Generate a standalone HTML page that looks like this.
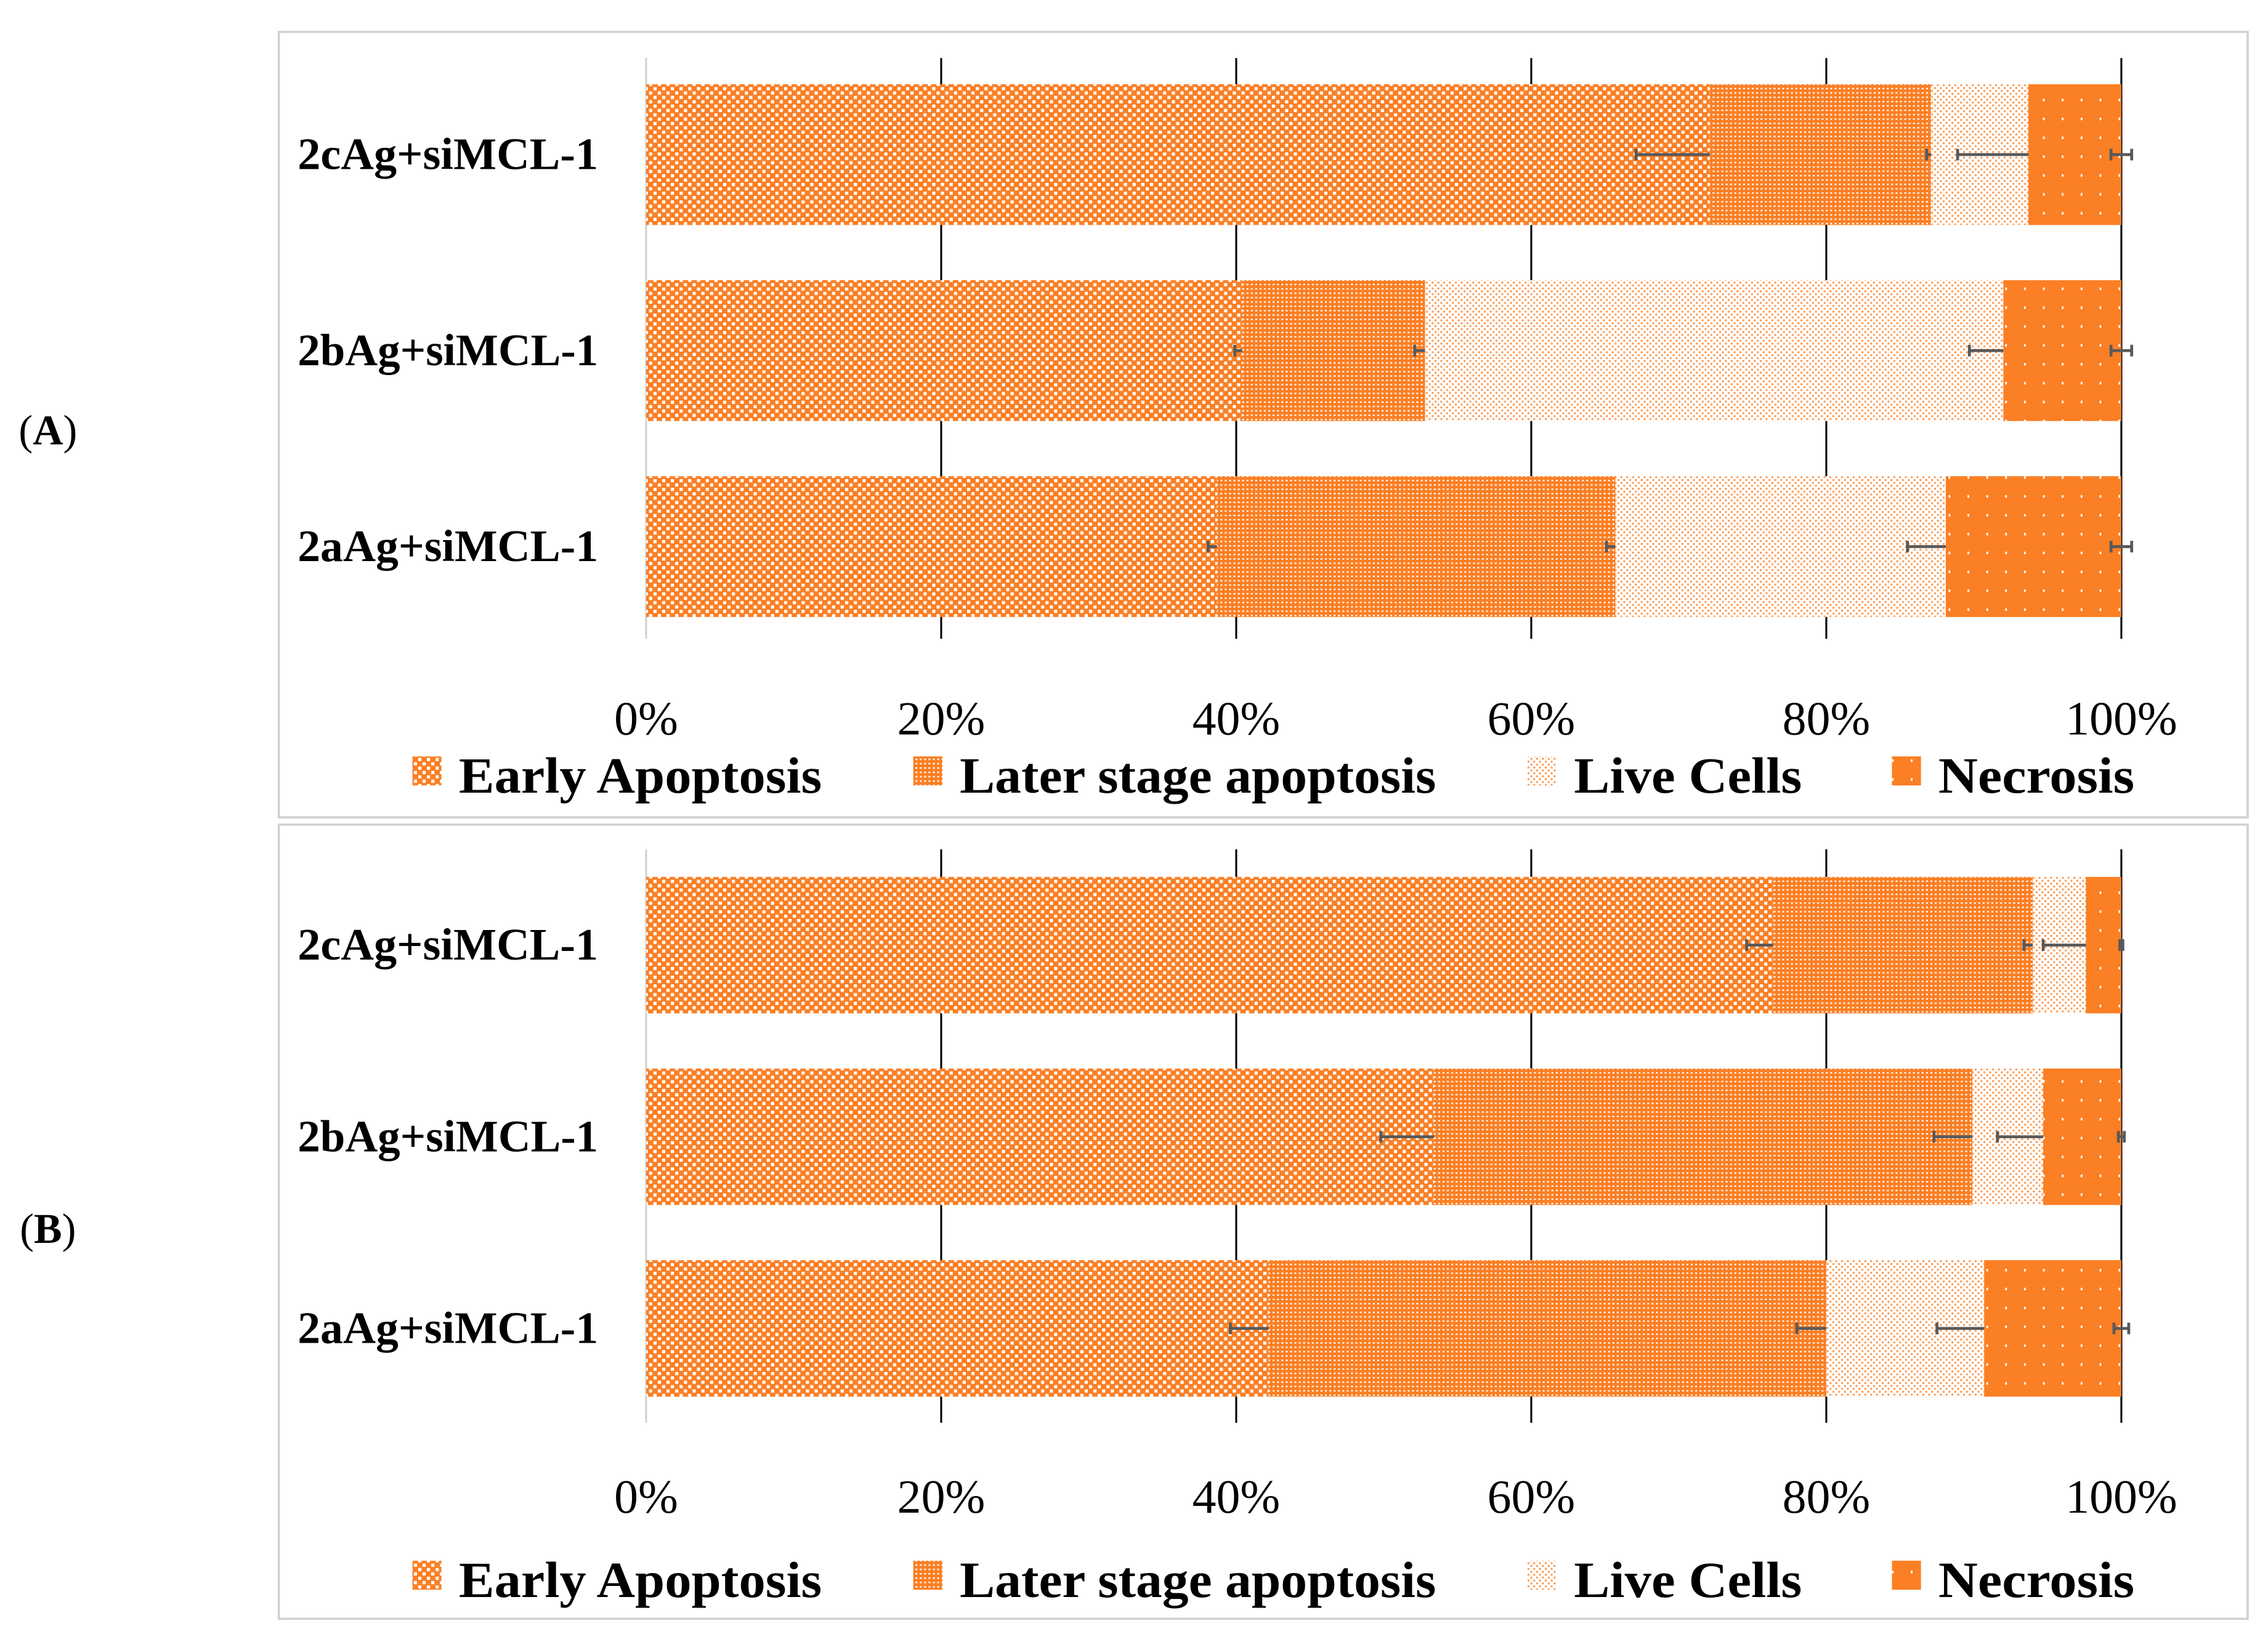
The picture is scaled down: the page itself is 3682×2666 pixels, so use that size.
<!DOCTYPE html>
<html><head><meta charset="utf-8">
<style>
html,body{margin:0;padding:0;background:#fff;}
svg{display:block;}
text{font-family:"Liberation Serif",serif;}
</style></head>
<body>
<svg id="chart" width="3682" height="2666" viewBox="0 0 1562 1131" preserveAspectRatio="none">
<defs>
<pattern id="pEarly" width="6" height="6" patternUnits="userSpaceOnUse">
<rect width="6" height="6" fill="#fb7f24"/><rect x="0" y="0" width="2.2" height="2.2" fill="#fff"/><rect x="3" y="3" width="2.2" height="2.2" fill="#fff"/></pattern>
<pattern id="pLater" width="3" height="3" patternUnits="userSpaceOnUse">
<rect width="3" height="3" fill="#fb7f24"/><rect x="0.5" y="0.5" width="1.3" height="1" fill="#fff"/></pattern>
<pattern id="pLive" width="4" height="4" patternUnits="userSpaceOnUse">
<rect width="4" height="4" fill="#fff"/><rect x="0" y="0" width="1.3" height="1.3" fill="#fb9a50"/><rect x="2" y="2" width="1.3" height="1.3" fill="#fb9a50"/></pattern>
<pattern id="pNec" width="13" height="13" patternUnits="userSpaceOnUse">
<rect width="13" height="13" fill="#fb7f24"/><rect x="3" y="3" width="1.2" height="1.8" fill="#fff"/></pattern>
</defs>
<g id="root"></g>
</svg>
<script>
const categories = ["2cAg+siMCL-1","2bAg+siMCL-1","2aAg+siMCL-1"];
const seriesNames = ["Early Apoptosis","Later stage apoptosis","Live Cells","Necrosis"];
const ticks = ["0%","20%","40%","60%","80%","100%"];
const tickValues = [0,20,40,60,80,100];
// Panel A values (per category, in series order)
const aEarly = [72.1, 40.4, 38.7];
const aLater = [15.0, 12.4, 27.0];
const aLive  = [6.6, 39.2, 22.4];
const aNecro = [6.3, 8.0, 11.9];
const aErrEarly = [5.0, 0.5, 0.6];
const aErrLater = [0.3, 0.7, 0.6];
const aErrLive  = [4.8, 2.3, 2.6];
const aErrNecro = [0.7, 0.7, 0.7];
// Panel B values
const bEarly = [76.4, 53.4, 42.2];
const bLater = [17.6, 36.5, 37.8];
const bLive  = [3.6, 4.8, 10.7];
const bNecro = [2.4, 5.3, 9.3];
const bErrEarly = [1.8, 3.6, 2.6];
const bErrLater = [0.6, 2.6, 2.0];
const bErrLive  = [2.9, 3.1, 3.2];
const bErrNecro = [0.1, 0.2, 0.5];

const NS="http://www.w3.org/2000/svg";
const root=document.getElementById('root');
function mk(tag,attrs,parent,txt){const e=document.createElementNS(NS,tag);for(const k in attrs)e.setAttribute(k,attrs[k]);if(txt!==undefined)e.textContent=txt;(parent||root).appendChild(e);return e;}
const X0=445,X1=1461;
const xs=v=>X0+(X1-X0)*v/100;
const fills=["url(#pEarly)","url(#pLater)","url(#pLive)","url(#pNec)"];

function panel(cfg){
  const g=mk('g',{});
  
  
  const box=mk('rect',{x:192,y:cfg.boxY,width:1356,height:cfg.boxH,fill:'#fff',stroke:'#d0d0d0','stroke-width':1.5},g);
  
  
  const lab=mk('text',{x:33,y:cfg.labelY,'font-size':29,'text-anchor':'middle'},g);
  
  
  mk('tspan',{},lab,'(');mk('tspan',{'font-weight':'bold'},lab,cfg.letter);mk('tspan',{},lab,')');
  tickValues.forEach((v,i)=>{
    const l=mk('line',{x1:xs(v),x2:xs(v),y1:cfg.gridTop,y2:cfg.gridBot,stroke:i===0?'#d0d0d0':'#000','stroke-width':1.3},g);
    
    
    const t=mk('text',{x:xs(v),y:cfg.tickY,'font-size':33,'text-anchor':'middle'},g,ticks[i]);
    
    
  });
  const vals=[cfg.early,cfg.later,cfg.live,cfg.necro];
  const errs=[cfg.eEarly,cfg.eLater,cfg.eLive,cfg.eNecro];
  categories.forEach((c,ci)=>{
    const y=cfg.barY[ci],h=cfg.barH;
    const cl=mk('text',{x:205,y:y+h/2+10,'font-size':31,'font-weight':'bold',textLength:207,lengthAdjust:'spacingAndGlyphs'},g,c);
    
    
    let acc=0;const ends=[];
    vals.forEach((s,si)=>{
      const r=mk('rect',{x:xs(acc),y:y,width:xs(acc+s[ci])-xs(acc),height:h,fill:fills[si]},g);
      
      
      acc+=s[ci];ends.push(acc);
    });
    ends.forEach((e,si)=>{
      const er=errs[si][ci];const cy=y+h/2;
      const xa=xs(e-er), xb= si===3?xs(e+er):xs(e);
      const eg=mk('g',{stroke:'#595959','stroke-width':2},g);
      
      
      mk('line',{x1:xa,x2:xb,y1:cy,y2:cy},eg);
      mk('line',{x1:xa,x2:xa,y1:cy-4,y2:cy+4},eg);
      if(si===3) mk('line',{x1:xb,x2:xb,y1:cy-4,y2:cy+4},eg);
    });
  });
  const lx=[282,627,1050,1301];
  const lw=[250,328,157,135];
  seriesNames.forEach((n,i)=>{
    const lg=mk('g',{},g);
    
    
    mk('rect',{x:lx[i]+2,y:cfg.legY-17,width:20,height:20,fill:fills[i]},lg);
    mk('text',{x:lx[i]+34,y:cfg.legY+8,'font-size':35,'font-weight':'bold',textLength:lw[i],lengthAdjust:'spacingAndGlyphs'},lg,n);
  });
}
panel({name:'panel-a',letter:'A',boxY:22,boxH:541,labelY:306,gridTop:40,gridBot:440,tickY:506,legY:538,barY:[58,193,328],barH:97,
  early:aEarly,later:aLater,live:aLive,necro:aNecro,eEarly:aErrEarly,eLater:aErrLater,eLive:aErrLive,eNecro:aErrNecro});
panel({name:'panel-b',letter:'B',boxY:568,boxH:547,labelY:856,gridTop:585,gridBot:980,tickY:1042,legY:1092,barY:[604,736,868],barH:94,
  early:bEarly,later:bLater,live:bLive,necro:bNecro,eEarly:bErrEarly,eLater:bErrLater,eLive:bErrLive,eNecro:bErrNecro});
</script>
</body></html>
